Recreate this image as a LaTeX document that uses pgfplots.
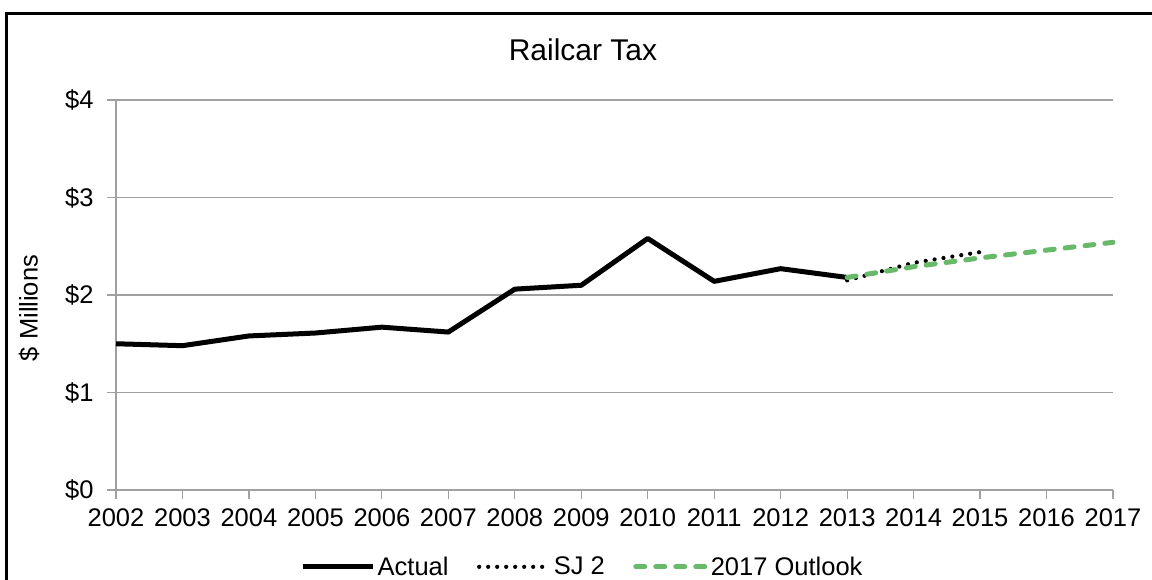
\documentclass[border=0pt]{standalone}
\usepackage{fontspec}
\setmainfont{Liberation Sans}
\usepackage{pgfplots}
\pgfplotsset{compat=1.18}
\definecolor{outlook}{RGB}{104,186,106}
\definecolor{gridgray}{RGB}{160,160,160}
\begin{document}
\begin{tikzpicture}[x=1pt,y=1pt]
\useasboundingbox (0,0) rectangle (1152,580);
\draw[line width=2.5pt] (6.5,-10) -- (6.5,566.3) -- (1152,566.3);
\node[font=\fontsize{30}{35}\selectfont] at (583,530) {Railcar Tax};
\node[rotate=90, font=\fontsize{25.5}{30}\selectfont] at (29,272) {\$ Millions};
\begin{axis}[
  at={(116pt,90pt)}, anchor=south west,
  scale only axis, width=997pt, height=390pt,
  xmin=2002, xmax=2017, ymin=0, ymax=4,
  axis x line=bottom, axis y line=left,
  axis line style={gridgray, line width=1.2pt, -},
  ymajorgrids, grid style={gridgray, line width=1.2pt},
  tick align=outside, major tick length=9pt,
  tick style={gridgray, line width=1.2pt},
  xtick={2002,2003,2004,2005,2006,2007,2008,2009,2010,2011,2012,2013,2014,2015,2016,2017},
  xticklabels={2002,2003,2004,2005,2006,2007,2008,2009,2010,2011,2012,2013,2014,2015,2016,2017},
  ytick={0,1,2,3,4},
  yticklabels={\$0,\$1,\$2,\$3,\$4},
  ticklabel style={font=\fontsize{25.5}{30}\selectfont, black},
  xticklabel style={yshift=-6pt},
  yticklabel style={xshift=-10pt},
  clip=false,
  legend columns=3,
  legend style={at={(0.468,-0.197)}, anchor=center, draw=none, fill=none,
    font=\fontsize{25.5}{30}\selectfont,
    /tikz/every even column/.append style={column sep=26pt},
    nodes={inner sep=2.5pt}},
  legend image code/.code={\draw[#1] (0pt,0pt) -- (70pt,0pt);},
]
\addplot[black, line width=5pt, line join=round] coordinates {
(2002,1.50) (2003,1.48) (2004,1.58) (2005,1.61) (2006,1.67) (2007,1.62)
(2008,2.06) (2009,2.10) (2010,2.58) (2011,2.14) (2012,2.27) (2013,2.18)};
\addlegendentry{Actual}
\addplot[black, line width=4.2pt, line cap=round, dash pattern=on 0pt off 9pt] coordinates {
(2013,2.15) (2014,2.33) (2015,2.44)};
\addlegendentry{SJ 2}
\addplot[outlook, line width=5pt, line cap=round, dash pattern=on 9pt off 11pt] coordinates {
(2013,2.18) (2014,2.29) (2015,2.38) (2016,2.46) (2017,2.54)};
\addlegendentry{2017 Outlook}
\end{axis}
\end{tikzpicture}
\end{document}
